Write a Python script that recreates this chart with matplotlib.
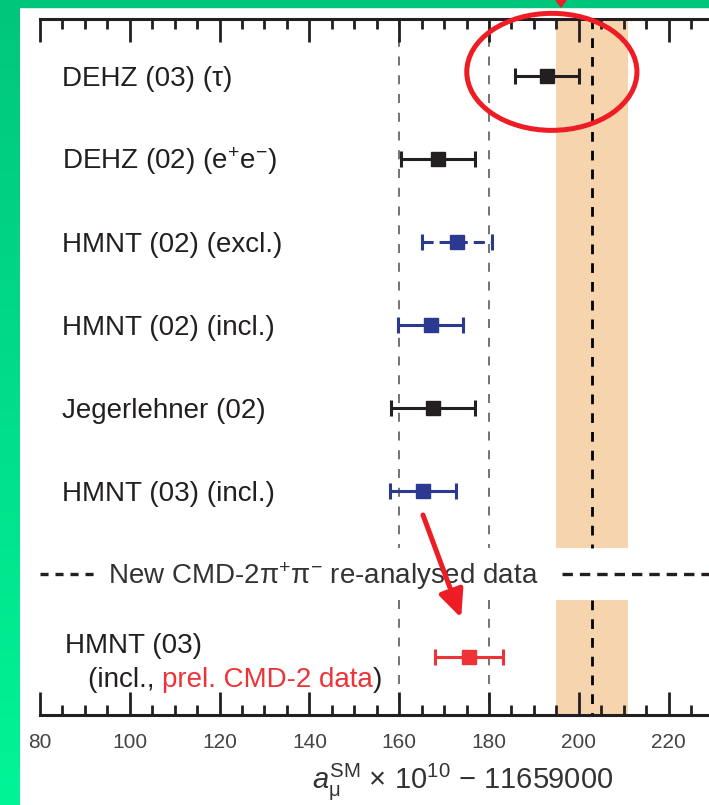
import numpy as np
import matplotlib
matplotlib.use("Agg")
from matplotlib import pyplot as plt
from matplotlib.colors import LinearSegmentedColormap
from matplotlib.patches import Ellipse, Polygon, Rectangle
from matplotlib.ticker import MultipleLocator

plt.rcParams["font.family"] = ["Liberation Sans", "DejaVu Sans"]
plt.rcParams["mathtext.fontset"] = "custom"
plt.rcParams["mathtext.rm"] = "Liberation Sans"
plt.rcParams["mathtext.it"] = "Liberation Sans:italic"
plt.rcParams["mathtext.default"] = "regular"
plt.rcParams["lines.scale_dashes"] = False

# a_mu^SM x 1e10 - 11659000 for each evaluation
labels = [
    "DEHZ (03) (τ)",
    "DEHZ (02) (e$^{+}$e$^{-}$)",
    "HMNT (02) (excl.)",
    "HMNT (02) (incl.)",
    "Jegerlehner (02)",
    "HMNT (03) (incl.)",
]
values = [192.9, 168.7, 172.8, 167.0, 167.5, 165.3]
errors = [7.2, 8.2, 7.8, 7.3, 9.4, 7.3]

# re-analysed CMD-2 result
new_value = 175.6
new_error = 7.6

# BNL measurement band
exp_value = 203.0
exp_error = 8.0

black = "#231F20"
blue = "#2B3990"
red = "#EE3338"
marker_colors = [black, black, blue, blue, black, blue]
dashed_bar = [False, False, True, False, False, False]

W, H = 709, 805
fig = plt.figure(figsize=(W / 100, H / 100), dpi=100, facecolor="white")

# green frame of the slide
gax = fig.add_axes([0, 0, 20 / W, 1])
grad = np.linspace(0, 1, 256).reshape(-1, 1)
gcmap = LinearSegmentedColormap.from_list("g", ["#00C67B", "#00F597"])
gax.imshow(grad, aspect="auto", cmap=gcmap)
gax.axis("off")
fig.patches.append(Rectangle((0, 1 - 7 / H), 1, 7 / H, transform=fig.transFigure,
                             color="#00C67B", zorder=5))
fig.patches.append(Polygon([(556 / W, 1), (566 / W, 1), (561 / W, 1 - 7 / H)],
                           closed=True, transform=fig.transFigure,
                           color="#EE1C24", zorder=6))

ax = fig.add_axes([40 / W, 90 / H, 669 / W, 696 / H])
ax.set_xlim(80, 229)
ax.set_ylim(7.70, -0.687)

# gap in the guide lines around the separator row
gap_lo, gap_hi = 5.69, 6.31
segments = [(-0.687, gap_lo), (gap_hi, 7.70)]

for y0, y1 in segments:
    ax.fill_betweenx([y0, y1], exp_value - exp_error, exp_value + exp_error,
                     color="#F6D4AE", lw=0, zorder=0)
    ax.plot([exp_value, exp_value], [y0, y1], color="black", lw=2.0,
            dashes=(7, 6.5), zorder=1)
    for xv in (160, 180):
        ax.plot([xv, xv], [y0, y1], color="#4D4D4D", lw=1.1,
                dashes=(6.5, 7), zorder=1)

bar_style = dict(fmt="s", ms=10, elinewidth=2.2, capsize=6, capthick=2.2, zorder=3)

for i, (v, e, c, d) in enumerate(zip(values, errors, marker_colors, dashed_bar)):
    eb = ax.errorbar(v, i, xerr=e, color=c, mec=c, **bar_style)
    if d:
        eb[2][0].set_linestyle((0, (8, 4.3)))
    ax.text(84.9, i + 0.12, labels[i], ha="left", va="baseline",
            fontsize=20, color=black)

# separator row
ax.plot([80, 93.4], [6, 6], color=black, lw=2.4, dashes=(5.8, 5), clip_on=False)
ax.plot([196.3, 229], [6, 6], color=black, lw=2.4, dashes=(7.5, 5), clip_on=False)
ax.text(95.1, 6 + 0.12, "New CMD-2$\\pi^{+}\\pi^{-}$ re-analysed data",
        ha="left", va="baseline", fontsize=20, color="#333333")

# new result
ax.errorbar(new_value, 7, xerr=new_error, color=red, mec=red, **bar_style)
ax.text(85.5, 6.95, "HMNT (03)", ha="left", va="baseline", fontsize=20, color=black)
t1 = ax.text(90.7, 7.36, "(incl., ", ha="left", va="baseline", fontsize=20, color=black)
t2 = ax.annotate("prel. CMD-2 data", xy=(1, 0), xycoords=t1, ha="left",
                 va="bottom", fontsize=20, color=red)
ax.annotate(")", xy=(1, 0), xycoords=t2, ha="left", va="bottom",
            fontsize=20, color=black)

# highlight of the tau-based value
ax.add_patch(Ellipse((194.0, -0.05), 37.9, 1.41, fill=False, ec="#EE1C24",
                     lw=3.6, clip_on=False, zorder=4))
ax.annotate("", xy=(173.8, 6.53), xytext=(165.3, 5.29),
            arrowprops=dict(arrowstyle="-|>,head_length=0.55,head_width=0.25",
                            color="#EE1C24", lw=3.6, mutation_scale=30,
                            shrinkA=0, shrinkB=0), zorder=4)

# axes styling
for side in ("left", "right"):
    ax.spines[side].set_visible(False)
for side in ("top", "bottom"):
    ax.spines[side].set_linewidth(2.2)
    ax.spines[side].set_color(black)
ax.xaxis.set_major_locator(MultipleLocator(20))
ax.xaxis.set_minor_locator(MultipleLocator(5))
ax.tick_params(axis="x", which="both", direction="in", top=True, bottom=True,
               width=2, color=black, labelsize=15, labelcolor="#444444", pad=13)
ax.tick_params(axis="x", which="major", length=16.5)
ax.tick_params(axis="x", which="minor", length=7.5)
ax.tick_params(axis="y", left=False, labelleft=False)

fig.text(312 / W, 17 / H, "$\\mathit{a}_{\\mu}^{SM}$ × 10$^{10}$ − 11659000",
         ha="left", va="baseline", fontsize=21, color="#333333")

fig.savefig("out.png", dpi=100)
